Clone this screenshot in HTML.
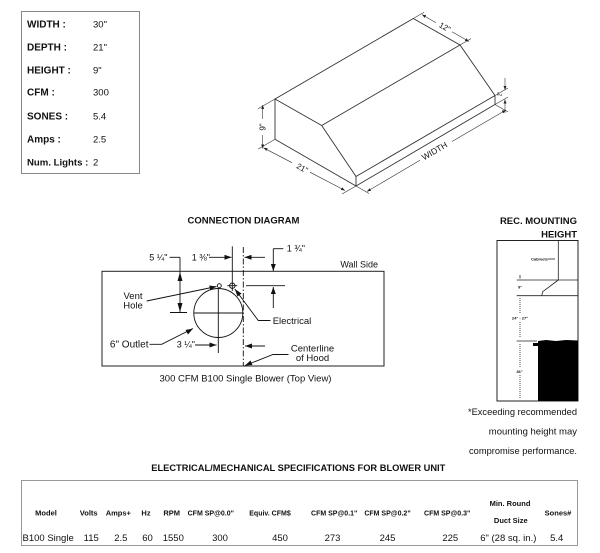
<!DOCTYPE html>
<html><head><meta charset="utf-8"><style>
html,body{margin:0;padding:0;background:#fff;}
svg{display:block;}
text{font-family:"Liberation Sans",Arial,sans-serif;fill:#111;}
.b{font-weight:bold;}
</style></head><body>
<svg width="600" height="553" viewBox="0 0 600 553" xmlns="http://www.w3.org/2000/svg">
<defs>
<marker id="a" markerWidth="7" markerHeight="5" refX="7" refY="2.5" orient="auto" markerUnits="userSpaceOnUse"><path d="M0,0L7,2.5L0,5z" fill="#111"/></marker>
<marker id="s" markerWidth="4" markerHeight="3" refX="4" refY="1.5" orient="auto" markerUnits="userSpaceOnUse"><path d="M0,0L4,1.5L0,3z" fill="#222"/></marker>
</defs>
<rect width="600" height="553" fill="#fff"/>

<!-- Spec box -->
<rect x="21.5" y="11.5" width="118" height="162" fill="none" stroke="#888" stroke-width="1"/>
<g font-size="10">
<text class="b" x="27" y="27.5">WIDTH :</text>
<text class="b" x="27" y="50.5">DEPTH :</text>
<text class="b" x="27" y="73.5">HEIGHT :</text>
<text class="b" x="27" y="95.5">CFM :</text>
<text class="b" x="27" y="119.5">SONES :</text>
<text class="b" x="27" y="142.5">Amps :</text>
<text class="b" x="27" y="165.5" font-size="9.6">Num. Lights :</text>
</g>
<g font-size="9.5">
<text x="93" y="27.5">30"</text>
<text x="93" y="50.5">21"</text>
<text x="93" y="73.5">9"</text>
<text x="93" y="95.5">300</text>
<text x="93" y="119.5">5.4</text>
<text x="93" y="142.5">2.5</text>
<text x="93" y="165.5">2</text>
</g>

<!-- Isometric hood -->
<g stroke="#333" stroke-width="0.9" fill="none">
<path d="M275,99 L413.3,18.5 L460,45 L495,95.5 L495,104.5 L356,186 L356,176.5 L495,95.5"/>
<path d="M460,45 L321.7,125.5 L275,99 L275,139.3 L356,186"/>
<path d="M321.7,125.5 L356,176.5"/>
</g>
<g stroke="#333" stroke-width="0.6" fill="none">
<line x1="275" y1="99" x2="258" y2="108.8"/>
<line x1="275" y1="139.3" x2="258" y2="149.1"/>
<line x1="262.7" y1="119" x2="262.7" y2="105" marker-end="url(#s)"/>
<line x1="262.7" y1="135" x2="262.7" y2="148.5" marker-end="url(#s)"/>
<line x1="356" y1="186" x2="342" y2="194"/>
<line x1="292" y1="162.7" x2="263.5" y2="147.8" marker-end="url(#s)"/>
<line x1="310" y1="172.2" x2="345" y2="190.5" marker-end="url(#s)"/>
<line x1="356" y1="186" x2="369" y2="193.5"/>
<line x1="495" y1="104.5" x2="508" y2="112"/>
<line x1="420" y1="160.3" x2="367" y2="191.5" marker-end="url(#s)"/>
<line x1="452" y1="141.5" x2="506" y2="110" marker-end="url(#s)"/>
<line x1="413.3" y1="18.5" x2="424" y2="12.3"/>
<line x1="460" y1="45" x2="471" y2="38.6"/>
<line x1="436" y1="22.8" x2="422" y2="14.6" marker-end="url(#s)"/>
<line x1="452" y1="31.8" x2="469" y2="41.5" marker-end="url(#s)"/>
<line x1="495" y1="95.5" x2="508" y2="88"/>
<line x1="495" y1="104.5" x2="508" y2="97"/>
<line x1="505" y1="78" x2="505" y2="90" marker-end="url(#s)"/>
<line x1="505" y1="113" x2="505" y2="99.5" marker-end="url(#s)"/>
</g>
<g font-size="8" fill="#222">
<text transform="translate(265.5,127) rotate(-90)" text-anchor="middle">9"</text>
<text transform="translate(301,170.5) rotate(28)" text-anchor="middle">21"</text>
<text transform="translate(436,153.5) rotate(-30.3)" text-anchor="middle" font-size="8.5">WIDTH</text>
<text transform="translate(443.5,29.5) rotate(29.6)" text-anchor="middle">12"</text>
<text transform="translate(501.5,94) rotate(-90)" text-anchor="middle" font-size="5">2"</text>
</g>

<!-- Connection diagram -->
<text class="b" x="243.5" y="223.5" font-size="9.5" text-anchor="middle">CONNECTION DIAGRAM</text>
<rect x="102" y="271.3" width="282" height="94.7" fill="none" stroke="#222" stroke-width="1"/>
<text x="378" y="267.5" font-size="9" text-anchor="end">Wall Side</text>
<g stroke="#111" stroke-width="0.9" fill="none">
<circle cx="218.3" cy="313" r="24.5"/>
<line x1="193.8" y1="313" x2="242.8" y2="313"/>
<line x1="218.3" y1="288.5" x2="218.3" y2="353"/>
<line x1="170" y1="312.5" x2="187" y2="312.5"/>
<line x1="169.5" y1="257.3" x2="180" y2="257.3"/>
<line x1="180" y1="257.3" x2="180" y2="312.5"/>
<line x1="209" y1="257.3" x2="231.5" y2="257.3" marker-end="url(#a)"/>
<line x1="232.3" y1="246.3" x2="232.3" y2="291"/>
<circle cx="232.3" cy="285.7" r="2.7"/>
<line x1="227.3" y1="285.7" x2="237.3" y2="285.7"/>
<circle cx="219.3" cy="285.7" r="2"/>
<line x1="243.3" y1="247" x2="243.3" y2="366" stroke-dasharray="6 2 1.5 2"/>
<line x1="265" y1="257.3" x2="244.5" y2="257.3" marker-end="url(#a)"/>
<line x1="283.3" y1="248.7" x2="273.3" y2="248.7"/>
<line x1="273.3" y1="248.7" x2="273.3" y2="271" marker-end="url(#a)"/>
<line x1="246" y1="285.7" x2="285" y2="285.7"/>
<line x1="273.3" y1="308" x2="273.3" y2="287" marker-end="url(#a)"/>
<line x1="146.7" y1="301" x2="216.5" y2="286.5" marker-end="url(#a)"/>
<polyline points="270.5,320.5 258.3,320.5 234.8,289"/>
<polyline points="149.5,344.3 161.7,344.3 193,328.5"/>
<line x1="195" y1="345" x2="216.5" y2="345" marker-end="url(#a)"/>
<line x1="265" y1="346" x2="245" y2="346" marker-end="url(#a)"/>
<polyline points="288.5,354.5 273,354.5 245,365.5"/>
</g>
<g fill="#111">
<polygon points="180,272 177.5,281 182.5,281"/>
<polygon points="180,312 177.5,303 182.5,303"/>
<polygon points="234.8,289 241.5,293.5 237.5,296.5"/>
<polygon points="193,328.5 185.5,330 188,334.5"/>
<polygon points="245,365.5 250.5,360.5 252.5,365"/>
</g>
<g font-size="9.5">
<text x="149.3" y="260.5" font-size="9">5 ¼"</text>
<text x="191.7" y="260.5" font-size="9">1 ⅜"</text>
<text x="286.7" y="251.7" font-size="9">1 ¾"</text>
<text x="133" y="299" text-anchor="middle">Vent</text>
<text x="133" y="308.5" text-anchor="middle">Hole</text>
<text x="272.7" y="324">Electrical</text>
<text x="148.5" y="347.5" text-anchor="end" font-size="10">6" Outlet</text>
<text x="176.7" y="347.5" font-size="9">3 ¼"</text>
<text x="312.5" y="351.5" text-anchor="middle">Centerline</text>
<text x="312.5" y="361" text-anchor="middle">of Hood</text>
<text x="245.5" y="381.5" text-anchor="middle">300 CFM B100 Single Blower (Top View)</text>
</g>

<!-- Rec mounting -->
<text class="b" x="577" y="224" font-size="9.5" text-anchor="end">REC. MOUNTING</text>
<text class="b" x="577" y="237.5" font-size="9.5" text-anchor="end">HEIGHT</text>
<rect x="497" y="240.5" width="81" height="160.5" fill="none" stroke="#222" stroke-width="1"/>
<g stroke="#222" stroke-width="0.8" fill="none">
<line x1="558.3" y1="240.5" x2="558.3" y2="280"/>
<line x1="516.7" y1="280" x2="578" y2="280"/>
<polyline points="558.3,280 542.7,291.7 541.7,295.7"/>
<line x1="516.7" y1="295.7" x2="578" y2="295.7"/>
<line x1="516.7" y1="341" x2="537" y2="341"/>
<line x1="520" y1="275" x2="520" y2="278.5"/>
<line x1="520" y1="298" x2="520" y2="314" stroke-dasharray="1 1"/>
<line x1="520" y1="322" x2="520" y2="338" stroke-dasharray="1 1"/>
<line x1="520" y1="344" x2="520" y2="368" stroke-dasharray="1 1"/>
<line x1="520" y1="375" x2="520" y2="399" stroke-dasharray="1 1"/>
<line x1="548" y1="259" x2="555" y2="259"/>
</g>
<path d="M538,341 L546,340 L556,341 L566,340 L578,340.5 L578,401 L538,401 L538,346 L533,346 L533,343 L538,343 Z" fill="#000"/>
<g font-size="4" font-weight="bold" fill="#222">
<text x="531" y="260.5">Cabinets</text>
<text x="518" y="288.5">9"</text>
<text x="520" y="319.5" text-anchor="middle">24" - 27"</text>
<text x="519.5" y="373" text-anchor="middle">36"</text>
</g>
<g font-size="9.3" text-anchor="end">
<text x="577" y="415">*Exceeding recommended</text>
<text x="577" y="434.5" font-size="9.5">mounting height may</text>
<text x="577" y="454">compromise performance.</text>
</g>

<!-- Electrical spec table -->
<text class="b" x="298.3" y="471" font-size="9.3" text-anchor="middle">ELECTRICAL/MECHANICAL SPECIFICATIONS FOR BLOWER UNIT</text>
<rect x="21.5" y="480.5" width="556" height="65" fill="none" stroke="#999" stroke-width="1"/>
<g font-size="7.5" font-weight="bold" text-anchor="middle">
<text x="46" y="515.5">Model</text>
<text x="88.7" y="515.5">Volts</text>
<text x="118.3" y="515.5">Amps+</text>
<text x="146" y="515.5">Hz</text>
<text x="171.7" y="515.5">RPM</text>
<text x="210.8" y="515.5" font-size="7">CFM SP@0.0"</text>
<text x="270" y="515.5" font-size="7">Equiv. CFM$</text>
<text x="334.2" y="515.5" font-size="7">CFM SP@0.1"</text>
<text x="387.5" y="515.5" font-size="7">CFM SP@0.2"</text>
<text x="447.2" y="515.5" font-size="7">CFM SP@0.3"</text>
<text x="510" y="506">Min. Round</text>
<text x="510.8" y="523">Duct Size</text>
<text x="558" y="515.5">Sones#</text>
</g>
<g font-size="9.5" text-anchor="middle">
<text x="22.5" y="541" text-anchor="start">B100 Single</text>
<text x="91.2" y="541">115</text>
<text x="120.8" y="541">2.5</text>
<text x="147.5" y="541">60</text>
<text x="173.3" y="541">1550</text>
<text x="220" y="541">300</text>
<text x="280" y="541">450</text>
<text x="332.5" y="541">273</text>
<text x="387.5" y="541">245</text>
<text x="450.3" y="541">225</text>
<text x="508.3" y="541">6" (28 sq. in.)</text>
<text x="556.7" y="541">5.4</text>
</g>
</svg>
</body></html>
